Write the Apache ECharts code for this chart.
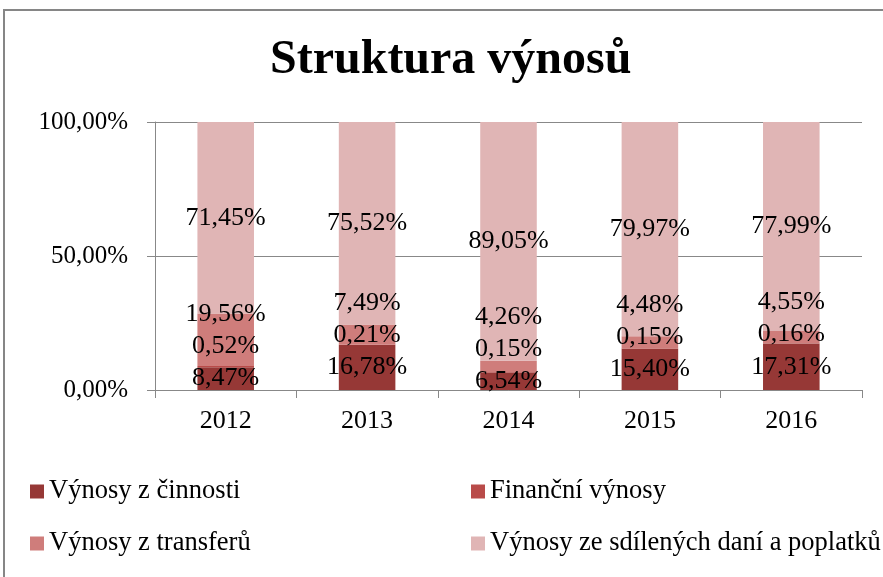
<!DOCTYPE html>
<html>
<head>
<meta charset="utf-8">
<script src="https://cdn.jsdelivr.net/npm/echarts@6/dist/echarts.min.js"></script>
<style>
  html, body { margin: 0; padding: 0; background: #fff; }
  #chart { width: 883px; height: 577px; }
</style>
</head>
<body>
<div id="chart"></div>
<script>
// data
const years = ['2012', '2013', '2014', '2015', '2016']
const seriesNames = ['Výnosy z činnosti', 'Finanční výnosy', 'Výnosy z transferů', 'Výnosy ze sdílených daní a poplatků']
const vynosyCinnosti = [8.47, 16.78, 6.54, 15.40, 17.31]
const financniVynosy = [0.52, 0.21, 0.15, 0.15, 0.16]
const vynosyTransferu = [19.56, 7.49, 4.26, 4.48, 4.55]
const vynosySdilene = [71.45, 75.52, 89.05, 79.97, 77.99]
const yTicks = [0, 50, 100]

const colors = ['#963836', '#b94b49', '#cf7d7b', '#e0b5b5']
const font = '"Liberation Serif", "Times New Roman", serif'

// layout of the plot (px)
const gridTop = 122
const gridHeight = 268
const pxPerUnit = gridHeight / 100
const labelGap = 12 // min distance between labels of one bar, in %

const allSeries = [vynosyCinnosti, financniVynosy, vynosyTransferu, vynosySdilene]

// push labels of a bar upward so they do not overlap
const labelShift = allSeries.map(() => [])
years.forEach((y, i) => {
  let base = 0
  let prev = -Infinity
  allSeries.forEach((s, k) => {
    const center = base + s[i] / 2
    const pos = Math.max(center, prev + labelGap)
    labelShift[k][i] = (pos - center) * pxPerUnit
    prev = pos
    base += s[i]
  })
})

const fmt = v => v.toFixed(2).replace('.', ',') + '%'

const legendText = { fontFamily: font, fontSize: 26.5, color: '#000', padding: [0, 0, 0, 0] }

const chart = echarts.init(document.getElementById('chart'))

chart.setOption({
  animation: false,
  color: colors,
  textStyle: { fontFamily: font, color: '#000' },
  title: {
    text: 'Struktura výnosů',
    left: 265,
    top: 32,
    textStyle: { fontFamily: font, fontSize: 48, fontWeight: 'bold', color: '#000' }
  },
  graphic: [{
    type: 'rect',
    shape: { x: 4, y: 10, width: 900, height: 600 },
    style: { fill: 'none', stroke: '#868686', lineWidth: 2 }
  }],
  legend: [
    {
      data: [seriesNames[0], seriesNames[2]],
      orient: 'vertical',
      left: 25,
      top: 473,
      itemWidth: 14,
      itemHeight: 14,
      itemGap: 25,
      icon: 'rect',
      textStyle: legendText
    },
    {
      data: [seriesNames[1], seriesNames[3]],
      orient: 'vertical',
      left: 466,
      top: 473,
      itemWidth: 14,
      itemHeight: 14,
      itemGap: 25,
      icon: 'rect',
      textStyle: legendText
    }
  ],
  grid: {
    left: 155,
    right: 21,
    top: gridTop,
    height: gridHeight
  },
  xAxis: {
    type: 'category',
    data: years,
    axisLine: { lineStyle: { color: '#888', width: 1 } },
    axisTick: { show: true, length: 8, lineStyle: { color: '#888' } },
    axisLabel: { fontFamily: font, fontSize: 26, color: '#000', margin: 18 }
  },
  yAxis: {
    type: 'value',
    min: yTicks[0],
    max: yTicks[yTicks.length - 1],
    interval: yTicks[1] - yTicks[0],
    axisLine: { show: true, lineStyle: { color: '#888', width: 1 } },
    axisTick: { show: true, length: 8, lineStyle: { color: '#888' } },
    splitLine: { lineStyle: { color: '#888', width: 1 } },
    axisLabel: { fontFamily: font, fontSize: 25, color: '#000', margin: 27, formatter: fmt }
  },
  series: allSeries.map((s, k) => ({
    name: seriesNames[k],
    type: 'bar',
    stack: 'total',
    barWidth: '40%',
    data: s.map((v, i) => ({
      value: v,
      label: { offset: [0, -labelShift[k][i]] }
    })),
    label: {
      show: true,
      position: 'inside',
      fontFamily: font,
      fontSize: 26,
      color: '#000',
      formatter: p => fmt(p.value)
    }
  }))
})
</script>
</body>
</html>
